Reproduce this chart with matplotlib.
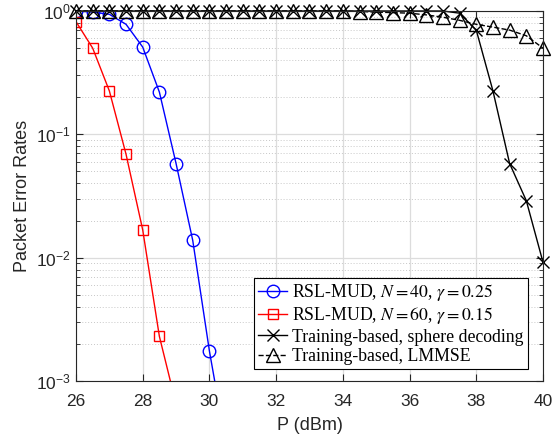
import numpy as np
import matplotlib
matplotlib.use("Agg")
import matplotlib.pyplot as plt
from matplotlib.ticker import LogLocator, FixedLocator, NullFormatter

plt.rcParams["font.family"] = ["Liberation Sans", "DejaVu Sans"]
plt.rcParams["mathtext.fontset"] = "stix"

# power axis (dBm)
p = np.arange(26, 40.01, 0.5)

# RSL-MUD curves
p_n40 = [26, 26.5, 27, 27.5, 28, 28.5, 29, 29.5, 30, 30.5]
per_n40 = [1.0, 0.98, 0.94, 0.78, 0.51, 0.22, 0.058, 0.0138, 0.00175, 0.0003]
p_n60 = [26, 26.5, 27, 27.5, 28, 28.5, 29]
per_n60 = [0.82, 0.50, 0.225, 0.069, 0.0168, 0.0023, 0.00065]

# training-based baselines
per_sd = [1.0] * 23 + [0.96, 0.70, 0.225, 0.058, 0.029, 0.0092]
per_lmmse = [1.0] * 17 + [0.99, 0.98, 0.97, 0.96, 0.93, 0.89, 0.84, 0.78,
                          0.74, 0.70, 0.63, 0.50]

fig = plt.figure(figsize=(5.6, 4.38), dpi=100)
ax = fig.add_axes([0.1357, 0.1301, 0.8339, 0.8448])

ax.semilogy(p_n40, per_n40, "-o", color="blue", mfc="none", ms=9, lw=1.0,
            label=r"RSL-MUD, $N = 40$, $\gamma = 0.25$")
ax.semilogy(p_n60, per_n60, "-s", color="red", mfc="none", ms=7.5, lw=1.0,
            label=r"RSL-MUD, $N = 60$, $\gamma = 0.15$")
ax.semilogy(p, per_sd, "-x", color="black", ms=8, lw=1.0, mew=1.0,
            label="Training-based, sphere decoding", clip_on=False)
ax.semilogy(p, per_lmmse, "--^", color="black", mfc="none", ms=10, lw=1.0,
            label="Training-based, LMMSE", clip_on=False)

ax.set_xlim(26, 40)
ax.set_ylim(1e-3, 1)
ax.xaxis.set_major_locator(FixedLocator(np.arange(26, 41, 2)))
ax.yaxis.set_major_locator(LogLocator(base=10, numticks=10))
ax.yaxis.set_minor_locator(LogLocator(base=10, subs=np.arange(2, 10), numticks=10))
ax.yaxis.set_minor_formatter(NullFormatter())

ax.grid(True, which="major", color="#dcdcdc", lw=0.9, ls="-")
ax.grid(True, which="minor", axis="y", color="#c8c8c8", lw=0.7, ls=(0, (1, 2)))
ax.set_axisbelow(True)

ax.tick_params(which="both", direction="in", top=True, right=True,
               colors="#262626", labelsize=12.5)
ax.tick_params(which="major", length=5)
ax.tick_params(which="minor", length=3)
ax.tick_params(axis="x", which="major", pad=9)
for s in ax.spines.values():
    s.set_color("#262626")
    s.set_linewidth(0.8)

ax.set_xlabel("P (dBm)", fontsize=13, color="#262626", labelpad=6)
ax.set_ylabel("Packet Error Rates", fontsize=13, color="#262626", labelpad=4)

leg = ax.legend(loc="lower right", bbox_to_anchor=(0.968, 0.032),
                prop={"family": "Liberation Serif", "size": 12.8},
                frameon=True, fancybox=False, edgecolor="black",
                framealpha=1, borderpad=0.25, labelspacing=0.12,
                handlelength=1.6, handletextpad=0.3, borderaxespad=0)
leg.get_frame().set_linewidth(0.8)

fig.savefig("out.png", dpi=100)
